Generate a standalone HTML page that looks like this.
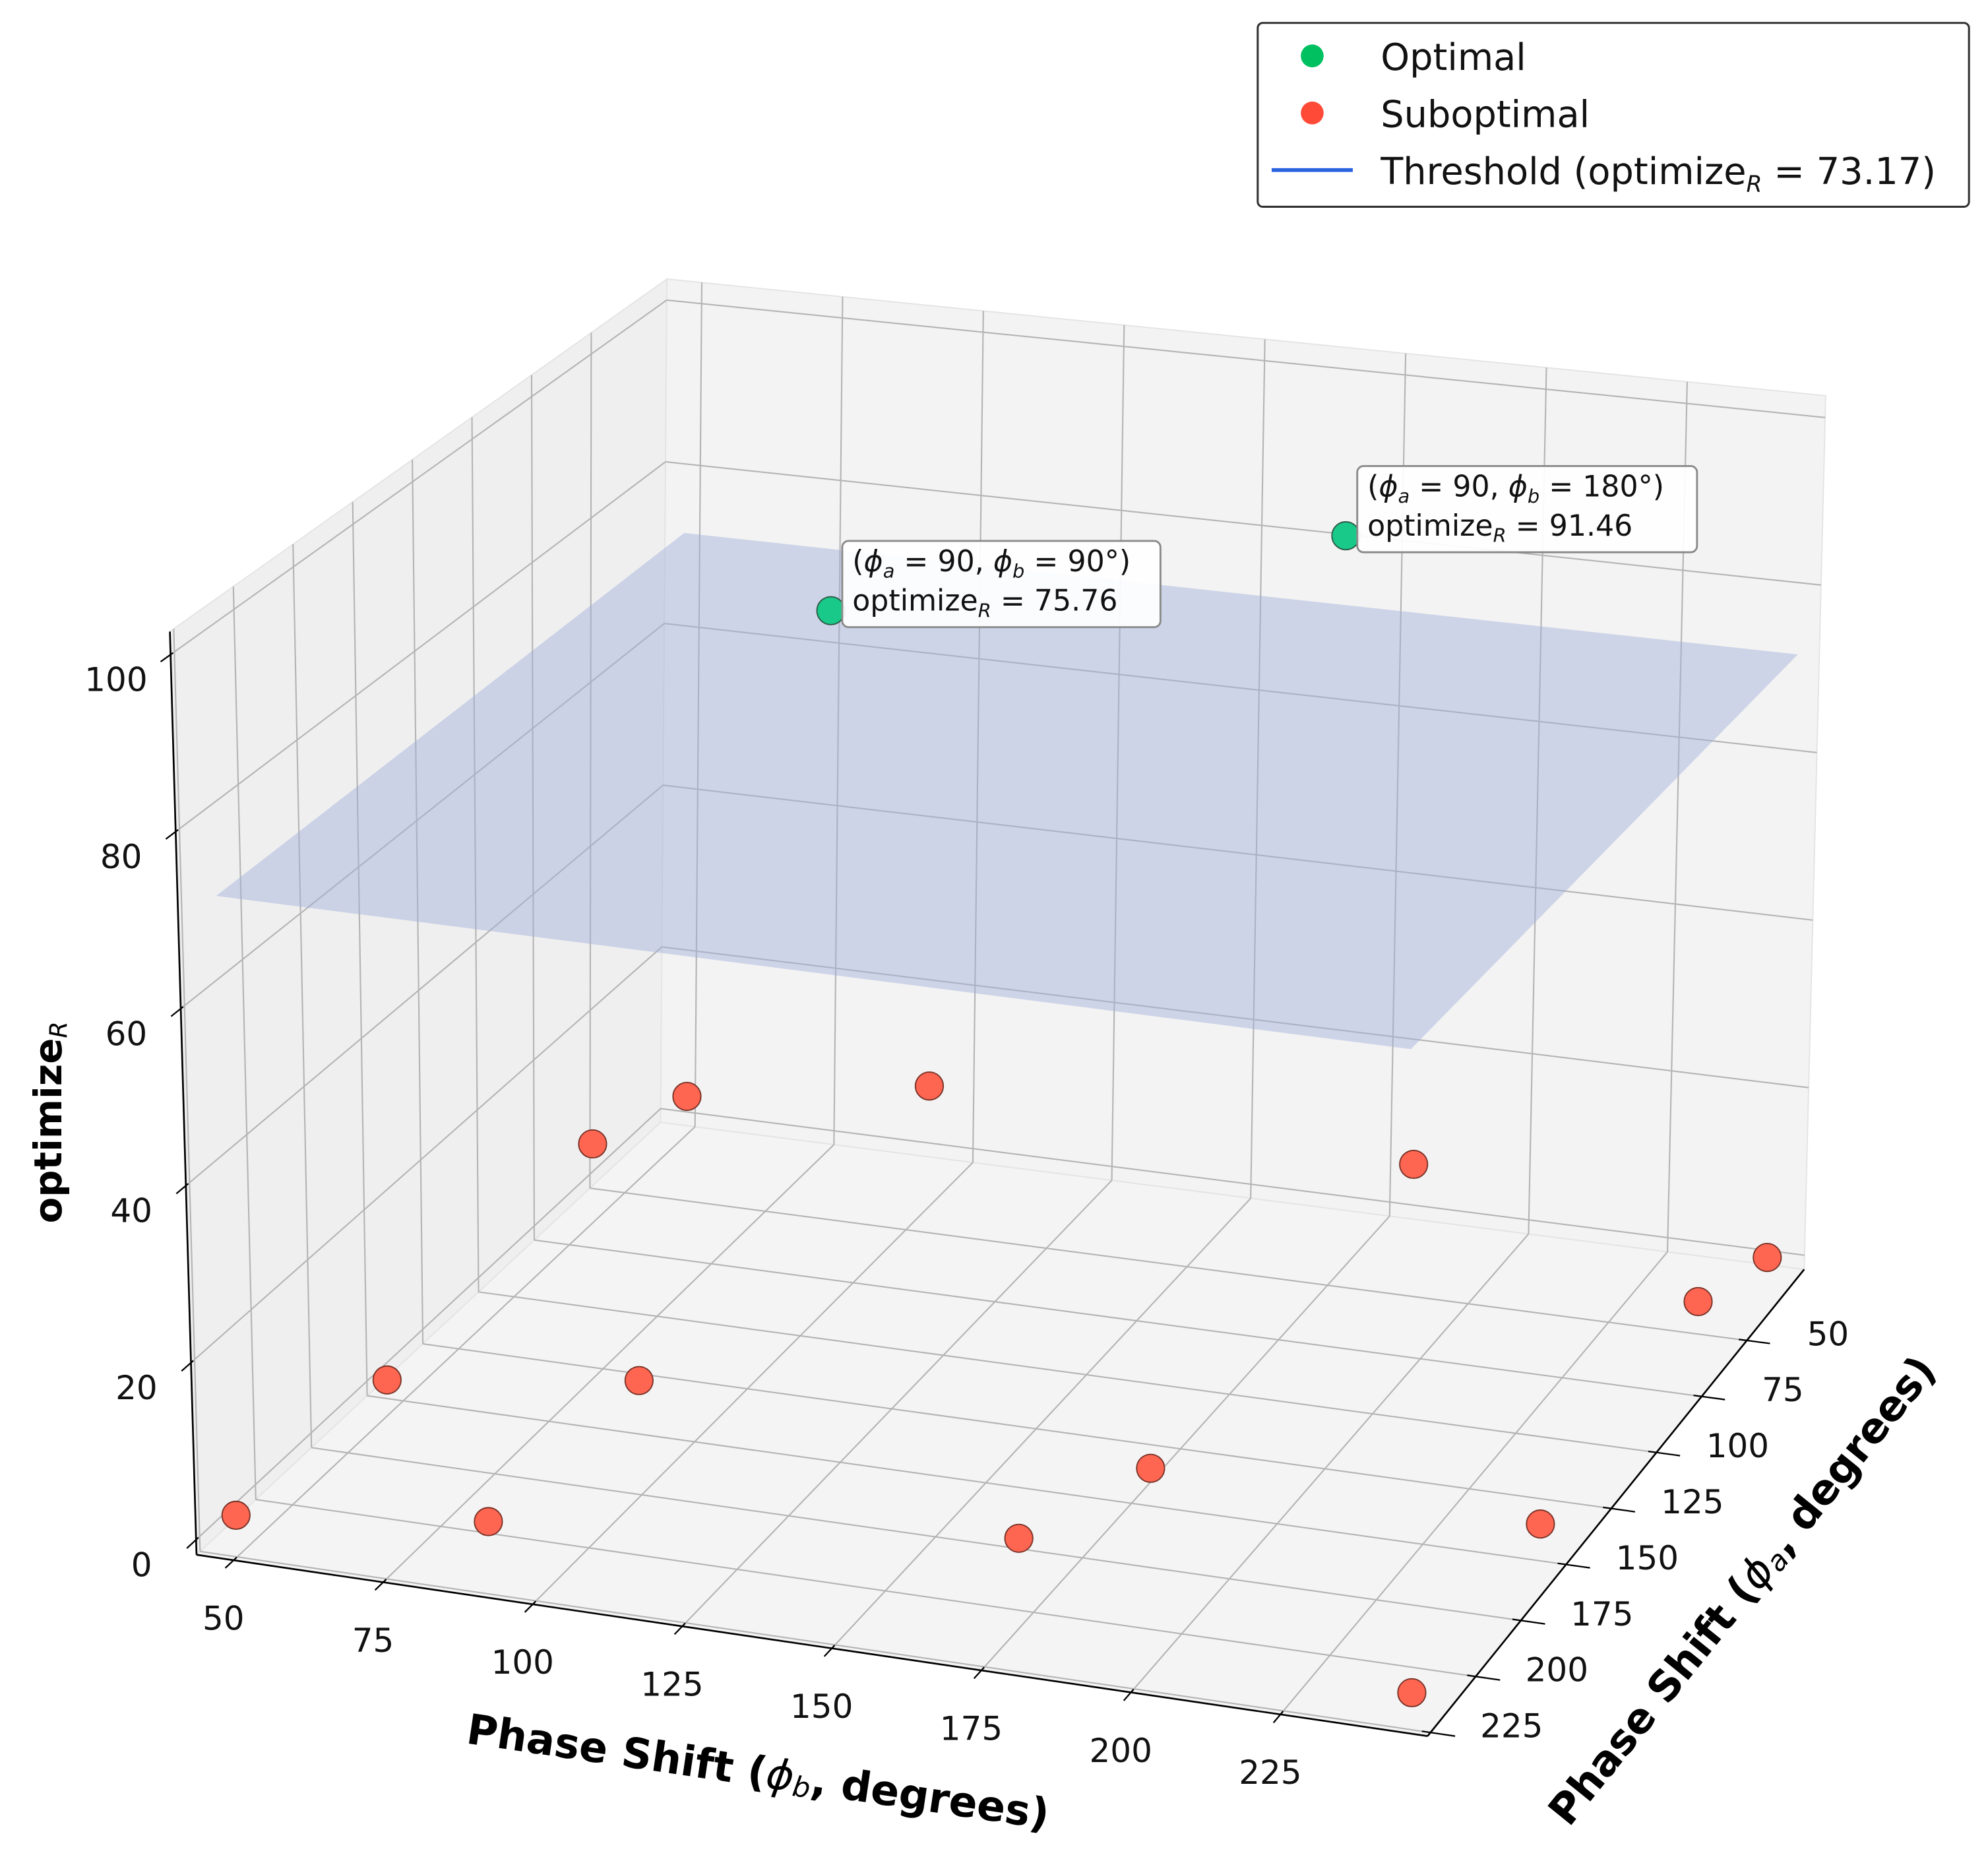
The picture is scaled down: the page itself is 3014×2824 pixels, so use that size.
<!DOCTYPE html>
<html><head><meta charset="utf-8"><style>
html,body{margin:0;padding:0;background:#fff;}
svg{display:block;font-family:"DejaVu Sans","Liberation Sans",sans-serif;}
</style></head><body>
<svg id="chart" width="3014" height="2824" viewBox="0 0 1568 1469" xmlns="http://www.w3.org/2000/svg"></svg>
<script>
// ---- data ----
const phiBTicks = [50, 75, 100, 125, 150, 175, 200, 225];
const phiATicks = [50, 75, 100, 125, 150, 175, 200, 225];
const zTicks = [0, 20, 40, 60, 80, 100];
const subB = [50, 89, 171, 245, 243, 180, 55, 98, 60, 61, 104, 190, 246, 244];
const subA = [225, 216, 195, 220, 143, 155, 170, 170, 90, 50, 50, 50, 28, 60];
const subZ = [3, 4, 5, 1, 0.5, 4, 6, 10, 15, 11, 16, 14, 2, 5];
const optB = [92, 182];
const optA = [65, 65];
const optZ = [75.76, 91.46];
const optLabelA = [90, 90];
const optLabelB = [90, 180];
const thresholdValue = 73.17;
const planeB = [50, 248];
const planeA = [25, 226];

// ---- axes / projection ----
const B0 = 43.8, B1 = 249.6, A0 = 18.3, A1 = 226.6, Z0 = -1.7, Z1 = 102.6;
const fBL=[521,885], fBR=[1423,1001], fFL=[155,1226], fFR=[1126,1369];
const tBL=[526,220], tBR=[1440,312], tFL=[134,498], tFR=[1117,617];
function bil(c00,c10,c01,c11,u,v){
  return [
    (1-u)*(1-v)*c00[0]+u*(1-v)*c10[0]+(1-u)*v*c01[0]+u*v*c11[0],
    (1-u)*(1-v)*c00[1]+u*(1-v)*c10[1]+(1-u)*v*c01[1]+u*v*c11[1]];
}
function projUVW(u,v,w){
  const f=bil(fBL,fBR,fFL,fFR,u,v), t=bil(tBL,tBR,tFL,tFR,u,v);
  return [f[0]+(t[0]-f[0])*w, f[1]+(t[1]-f[1])*w];
}
const xU = b => (b-B0)/(B1-B0);
const yV = a => (a-A0)/(A1-A0);
const zW = z => (z-Z0)/(Z1-Z0);
function proj(b,a,z){ return projUVW(xU(b),yV(a),zW(z)); }

const svg = document.getElementById('chart');
const NS = 'http://www.w3.org/2000/svg';
function mk(tag, parent){ const e=document.createElementNS(NS,tag); (parent||svg).appendChild(e); return e; }
function pts(arr){ return arr.map(p=>p[0].toFixed(1)+','+p[1].toFixed(1)).join(' '); }
function line(p,q,stroke,w,parent){
  const l=mk('line',parent);
  l.setAttribute('x1',p[0]);l.setAttribute('y1',p[1]);l.setAttribute('x2',q[0]);l.setAttribute('y2',q[1]);
  l.setAttribute('stroke',stroke);l.setAttribute('stroke-width',w);
  return l;
}

// panes
const panes = mk('g');


const leftWall = mk('polygon',panes);
leftWall.setAttribute('points',pts([projUVW(0,0,0),projUVW(0,1,0),projUVW(0,1,1),projUVW(0,0,1)]));
leftWall.setAttribute('fill','#efefef');leftWall.setAttribute('stroke','#e4e4e4');


const backWall = mk('polygon',panes);
backWall.setAttribute('points',pts([projUVW(0,0,0),projUVW(1,0,0),projUVW(1,0,1),projUVW(0,0,1)]));
backWall.setAttribute('fill','#f3f3f3');backWall.setAttribute('stroke','#e4e4e4');


const floorP = mk('polygon',panes);
floorP.setAttribute('points',pts([projUVW(0,0,0),projUVW(1,0,0),projUVW(1,1,0),projUVW(0,1,0)]));
floorP.setAttribute('fill','#f4f4f4');floorP.setAttribute('stroke','#e4e4e4');



// gridlines
const grid = mk('g');


const GC='#b4b4b4', GW=1.1;
phiBTicks.forEach(b=>{
  const u=xU(b);
  let l=line(projUVW(u,0,0),projUVW(u,1,0),GC,GW,grid);
  
  l=line(projUVW(u,0,0),projUVW(u,0,1),GC,GW,grid);
  
});
phiATicks.forEach(a=>{
  const v=yV(a);
  let l=line(projUVW(0,v,0),projUVW(1,v,0),GC,GW,grid);
  
  l=line(projUVW(0,v,0),projUVW(0,v,1),GC,GW,grid);
  
});
zTicks.forEach(z=>{
  const w=zW(z);
  let l=line(projUVW(0,0,w),projUVW(0,1,w),GC,GW,grid);
  
  l=line(projUVW(0,0,w),projUVW(1,0,w),GC,GW,grid);
  
});

// axis lines, ticks, labels
const axes = mk('g');


let ax=line(projUVW(0,1,0),projUVW(1,1,0),'#000',1.4,axes);

ax=line(projUVW(1,0,0),projUVW(1,1,0),'#000',1.4,axes);

ax=line(projUVW(0,1,0),projUVW(0,1,1),'#000',1.4,axes);


const tickG = mk('g');


function tlabel(txt,x,y,name){
  const t=mk('text',tickG);
  t.setAttribute('x',x);t.setAttribute('y',y);
  t.setAttribute('text-anchor','middle');t.setAttribute('dominant-baseline','central');
  t.setAttribute('font-size','26');t.setAttribute('fill','#111');
  t.textContent=txt;
  
  
  return t;
}
phiBTicks.forEach(b=>{
  const u=xU(b);
  const t=line(projUVW(u,0.993,0),projUVW(u,1.018,0),'#000',1.2,axes);
  
  const p=projUVW(u,1,0);
  tlabel(String(b),p[0]-8,p[1]+46,'phib-tick-label');
});
phiATicks.forEach(a=>{
  const v=yV(a);
  const t=line(projUVW(0.993,v,0),projUVW(1.02,v,0),'#000',1.2,axes);
  
  const p=projUVW(1,v,0);
  tlabel(String(a),p[0]+64,p[1]-5,'phia-tick-label');
});
zTicks.forEach(z=>{
  const w=zW(z);
  const t=line(projUVW(0,0.995,w),projUVW(0,1.02,w),'#000',1.2,axes);
  
  const p=projUVW(0,1,w);
  tlabel(String(z),p[0]-43,p[1]+20,'z-tick-label');
});

// axis titles
const titles = mk('g');


const xt=mk('text',titles);
xt.setAttribute('transform','translate(598,1397) rotate(8.4)');
xt.setAttribute('text-anchor','middle');xt.setAttribute('dominant-baseline','central');
xt.setAttribute('font-size','33');xt.setAttribute('font-weight','bold');
xt.innerHTML='Phase Shift (<tspan font-style="italic" font-weight="normal">ϕ</tspan><tspan font-size="22" dy="7" font-style="italic" font-weight="normal">b</tspan><tspan dy="-7">, degrees)</tspan>';


const yt=mk('text',titles);
yt.setAttribute('transform','translate(1374,1254) rotate(-51.1)');
yt.setAttribute('text-anchor','middle');yt.setAttribute('dominant-baseline','central');
yt.setAttribute('font-size','33');yt.setAttribute('font-weight','bold');
yt.innerHTML='Phase Shift (<tspan font-style="italic" font-weight="normal">ϕ</tspan><tspan font-size="22" dy="7" font-style="italic" font-weight="normal">a</tspan><tspan dy="-7">, degrees)</tspan>';


const zt=mk('text',titles);
zt.setAttribute('transform','translate(38,885) rotate(-90)');
zt.setAttribute('text-anchor','middle');zt.setAttribute('dominant-baseline','central');
zt.setAttribute('font-size','30');zt.setAttribute('font-weight','bold');
zt.innerHTML='optimize<tspan font-size="19" dy="8" font-style="italic" font-weight="normal">R</tspan>';



// threshold plane
const plane=mk('polygon');
plane.setAttribute('points',pts([proj(planeB[0],planeA[0],thresholdValue),proj(planeB[1],planeA[0],thresholdValue),proj(planeB[1],planeA[1],thresholdValue),proj(planeB[0],planeA[1],thresholdValue)]));
plane.setAttribute('fill','#9fb0dc');plane.setAttribute('fill-opacity','0.45');



// points
const ptsG=mk('g');


const all=[];
subB.forEach((b,i)=>all.push({b:b,a:subA[i],z:subZ[i],opt:false}));
optB.forEach((b,i)=>all.push({b:b,a:optA[i],z:optZ[i],opt:true,i:i}));
all.sort((p,q)=>p.a-q.a);
all.forEach(p=>{
  const s=proj(p.b,p.a,p.z);
  const c=mk('circle',ptsG);
  c.setAttribute('cx',s[0]);c.setAttribute('cy',s[1]);c.setAttribute('r','11');
  c.setAttribute('fill',p.opt?'#19c98a':'#ff6652');
  c.setAttribute('stroke',p.opt?'#2d5a45':'#7a3328');c.setAttribute('stroke-width','1');
  
  
});

// annotations
const boxW=[251,268];
optB.forEach((b,i)=>{
  const s=proj(b,optA[i],optZ[i]);
  const g=mk('g');
  
  
  const x=s[0]+9, y=s[1]-55;
  const r=mk('rect',g);
  r.setAttribute('x',x);r.setAttribute('y',y);r.setAttribute('width',boxW[i]);r.setAttribute('height','68');
  r.setAttribute('rx','5');r.setAttribute('fill','#fff');r.setAttribute('fill-opacity','0.92');
  r.setAttribute('stroke','#8a8a8a');r.setAttribute('stroke-width','1.5');
  
  
  const t1=mk('text',g);
  t1.setAttribute('x',x+8);t1.setAttribute('y',y+24);t1.setAttribute('font-size','23');t1.setAttribute('fill','#111');
  t1.innerHTML='(<tspan font-style="italic">ϕ</tspan><tspan font-size="15" dy="5" font-style="italic">a</tspan><tspan dy="-5"> = '+optLabelA[i]+', </tspan><tspan font-style="italic">ϕ</tspan><tspan font-size="15" dy="5" font-style="italic">b</tspan><tspan dy="-5"> = '+optLabelB[i]+'°)</tspan>';
  
  
  const t2=mk('text',g);
  t2.setAttribute('x',x+8);t2.setAttribute('y',y+55);t2.setAttribute('font-size','23');t2.setAttribute('fill','#111');
  t2.innerHTML='optimize<tspan font-size="15" dy="5" font-style="italic">R</tspan><tspan dy="-5"> = '+optZ[i].toFixed(2)+'</tspan>';
  
  
});

// legend
const lg=mk('g');


const lr=mk('rect',lg);
lr.setAttribute('x','992');lr.setAttribute('y','18');lr.setAttribute('width','561');lr.setAttribute('height','145');
lr.setAttribute('rx','4');lr.setAttribute('fill','#fff');lr.setAttribute('stroke','#333');lr.setAttribute('stroke-width','1.6');


const e1=mk('circle',lg);
e1.setAttribute('cx','1035');e1.setAttribute('cy','44');e1.setAttribute('r','9');e1.setAttribute('fill','#00c060');


const e2=mk('circle',lg);
e2.setAttribute('cx','1035');e2.setAttribute('cy','89');e2.setAttribute('r','9');e2.setAttribute('fill','#ff4a38');


const e3=line([1003,134],[1067,134],'#2a62e0',3,lg);


const lt=[['Optimal',55,'legend-optimal-label'],['Suboptimal',100,'legend-suboptimal-label']];
lt.forEach(d=>{
  const t=mk('text',lg);
  t.setAttribute('x','1089');t.setAttribute('y',d[1]);t.setAttribute('font-size','29');t.setAttribute('fill','#111');
  t.textContent=d[0];
  
  
});
const l3=mk('text',lg);
l3.setAttribute('x','1089');l3.setAttribute('y','145');l3.setAttribute('font-size','29');l3.setAttribute('fill','#111');
l3.innerHTML='Threshold (optimize<tspan font-size="18" dy="6" font-style="italic">R</tspan><tspan dy="-6"> = '+thresholdValue.toFixed(2)+')</tspan>';


</script>
</body></html>
